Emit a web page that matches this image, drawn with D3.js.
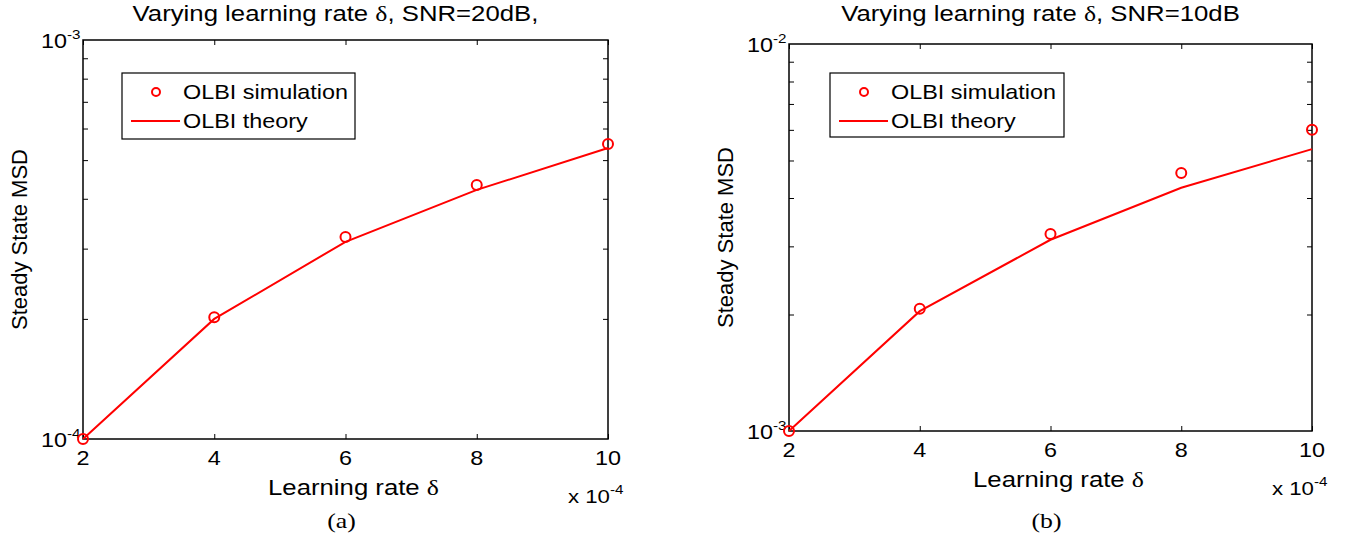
<!DOCTYPE html>
<html>
<head>
<meta charset="utf-8">
<script src="https://cdn.jsdelivr.net/npm/d3@7"></script>
<style>
  body { margin: 0; background: #fff; }
  svg text { font-family: "Liberation Sans", Arial, sans-serif; fill: #000; }
</style>
</head>
<body>
<svg id="chart" width="1345" height="533"></svg>
<script>
// learning rate values (x 10^-4)
const deltaVals = [2, 4, 6, 8, 10]
const xTicks = [2, 4, 6, 8, 10]

// panel (a) SNR=20dB
const simA = [1.0e-4, 2.02e-4, 3.21e-4, 4.33e-4, 5.49e-4]
const theoryA = [1.0e-4, 2.0e-4, 3.12e-4, 4.21e-4, 5.36e-4]

// panel (b) SNR=10dB
const simB = [1.0e-3, 2.07e-3, 3.23e-3, 4.64e-3, 6.0e-3]
const theoryB = [1.0e-3, 2.04e-3, 3.12e-3, 4.25e-3, 5.35e-3]

const legendLabels = ["OLBI simulation", "OLBI theory"]

// the original figure is a bit wider than tall, text looks stretched
const SX = 1.17

const svg = d3.select("#chart")

function stretchedText(g, x, y, size, anchor) {
    return g.append("text")
        .attr("transform", "translate(" + x + "," + y + ") scale(" + SX + ",1)")
        .attr("text-anchor", anchor || "start")
        .style("font-size", size + "px")
}

function addPow(sel, base, exp, smallSize) {
    sel.append("tspan").text(base)
    sel.append("tspan").style("font-size", smallSize + "px").attr("dy", -9).text(exp)
}

function drawPanel(p) {
    const g = svg.append("g")
    const x = d3.scaleLinear().domain([2, 10]).range([p.left, p.right])
    const y = d3.scaleLog().domain(p.yDomain).range([p.bottom, p.top])

    const lo = p.yDomain[0]
    const minor = d3.range(2, 10).map(k => k * lo)

    // inward ticks on all four sides
    g.append("g").attr("transform", "translate(0," + p.bottom + ")")
        .call(d3.axisBottom(x).tickValues(xTicks).tickSize(-5).tickFormat(""))
    g.append("g").attr("transform", "translate(0," + p.top + ")")
        .call(d3.axisTop(x).tickValues(xTicks).tickSize(-5).tickFormat(""))
    g.append("g").attr("transform", "translate(" + p.left + ",0)")
        .call(d3.axisLeft(y).tickValues(minor).tickSize(-5).tickFormat(""))
    g.append("g").attr("transform", "translate(" + p.right + ",0)")
        .call(d3.axisRight(y).tickValues(minor).tickSize(-5).tickFormat(""))
    g.selectAll(".domain").remove()
    g.selectAll(".tick line").attr("stroke", "#000").attr("stroke-width", 1)

    // box
    g.append("rect")
        .attr("x", p.left).attr("y", p.top)
        .attr("width", p.right - p.left).attr("height", p.bottom - p.top)
        .attr("fill", "none").attr("stroke", "#000").attr("stroke-width", 1.5)

    // x tick labels
    xTicks.forEach(d => {
        stretchedText(g, x(d), p.bottom + 26, 20, "middle").text(d)
    })

    // y decade labels
    addPow(stretchedText(g, p.left - 42, p.bottom + 8, 20), "10", p.loExp, 13)
    addPow(stretchedText(g, p.left - 42, p.top + 8, 20), "10", p.hiExp, 13)

    // x 10^-4 multiplier
    addPow(stretchedText(g, p.right - 40, p.bottom + 64, 19), "x 10", "-4", 13)

    // title
    const t = stretchedText(g, (p.left + p.right) / 2 - 10, 21, 22, "middle")
    t.append("tspan").text("Varying learning rate ")
    t.append("tspan").style("font-family", "'Liberation Serif', serif").text("δ")
    t.append("tspan").text(", " + p.snr)

    // x label
    const xl = stretchedText(g, (p.left + p.right) / 2 + 8, p.bottom + 56, 22, "middle")
    xl.append("tspan").text("Learning rate ")
    xl.append("tspan").style("font-family", "'Liberation Serif', serif").text("δ")

    // y label
    g.append("text")
        .attr("transform", "translate(" + (p.left - 56) + "," + ((p.top + p.bottom) / 2) + ") rotate(-90)")
        .attr("text-anchor", "middle").style("font-size", "22px")
        .text("Steady State MSD")

    // panel caption
    stretchedText(g, (p.left + p.right) / 2 - 4, 528, 22, "middle")
        .style("font-family", "'Liberation Serif', serif")
        .text(p.caption)

    // theory line
    const line = d3.line().x((d, i) => x(deltaVals[i])).y(d => y(d))
    g.append("path").datum(p.theory)
        .attr("d", line).attr("fill", "none")
        .attr("stroke", "#ff0000").attr("stroke-width", 2)

    // simulation markers
    g.selectAll(".sim").data(p.sim).enter().append("circle")
        .attr("cx", (d, i) => x(deltaVals[i])).attr("cy", d => y(d))
        .attr("r", 5).attr("fill", "none")
        .attr("stroke", "#ff0000").attr("stroke-width", 2)

    // legend
    const L = p.legend
    g.append("rect").attr("x", L.x).attr("y", L.y).attr("width", L.w).attr("height", L.h)
        .attr("fill", "#fff").attr("stroke", "#000").attr("stroke-width", 1.2)
    g.append("circle").attr("cx", L.x + 34).attr("cy", L.y + 19).attr("r", 4)
        .attr("fill", "none").attr("stroke", "#ff0000").attr("stroke-width", 2)
    g.append("line").attr("x1", L.x + 9).attr("x2", L.x + 58)
        .attr("y1", L.y + 48).attr("y2", L.y + 48)
        .attr("stroke", "#ff0000").attr("stroke-width", 2)
    legendLabels.forEach((d, i) => {
        stretchedText(g, L.x + 61, L.y + 26 + i * 29, 20).text(d)
    })
}

drawPanel({
    left: 83, right: 608, top: 40, bottom: 439,
    yDomain: [1e-4, 1e-3], loExp: "-4", hiExp: "-3",
    sim: simA, theory: theoryA, snr: "SNR=20dB,", caption: "(a)",
    legend: { x: 122, y: 73, w: 233, h: 66 }
})

drawPanel({
    left: 789, right: 1312, top: 44, bottom: 431,
    yDomain: [1e-3, 1e-2], loExp: "-3", hiExp: "-2",
    sim: simB, theory: theoryB, snr: "SNR=10dB", caption: "(b)",
    legend: { x: 830, y: 73, w: 234, h: 64 }
})
</script>
</body>
</html>
